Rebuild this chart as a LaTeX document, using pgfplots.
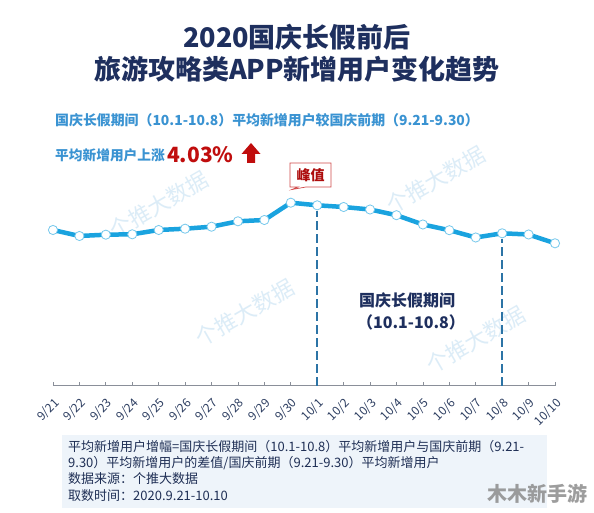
\documentclass[border=0pt]{standalone}
\usepackage{fontspec}
\setmainfont{Noto Sans CJK SC}
\usepackage{pgfplots}
\pgfplotsset{compat=1.18}
\definecolor{titlenavy}{HTML}{1E2F5E}
\definecolor{subblue}{HTML}{3A93D2}
\definecolor{hotred}{HTML}{C00D0D}
\definecolor{lineblue}{HTML}{1AA3DF}
\definecolor{dashblue}{HTML}{2C74A6}
\definecolor{ticktext}{HTML}{2E3F62}
\definecolor{axisgray}{HTML}{8A8F99}
\definecolor{notebg}{HTML}{EEF4FA}
\definecolor{notetext}{HTML}{1F2F55}
\definecolor{wmblue}{HTML}{9CCBEA}
\begin{document}
\begin{tikzpicture}[x=1pt,y=1pt]
\fill[white] (0,0) rectangle (594,513);
\path[use as bounding box] (0,0) rectangle (594,513);
% watermarks
\foreach \px/\py in {159/308, 436/333, 245/200, 476/173}{
  \node[rotate=30, text=wmblue, opacity=0.35, font=\fontsize{22}{22}\selectfont] at (\px,\py) {个推大数据};
}
% title
\node[text=titlenavy, font=\fontsize{27}{27}\selectfont\bfseries] at (297,476) {2020国庆长假前后};
\node[text=titlenavy, font=\fontsize{27}{27}\selectfont\bfseries] at (297,444) {旅游攻略类APP新增用户变化趋势};
% subtitle
\node[anchor=west, inner sep=0pt, text=subblue, font=\fontsize{13.9}{13.9}\selectfont\bfseries] at (55,393) {国庆长假期间（10.1-10.8）平均新增用户较国庆前期（9.21-9.30）};
\node[anchor=west, inner sep=0pt, text=subblue, font=\fontsize{13.7}{13.7}\selectfont\bfseries] at (55,358) {平均新增用户上涨};
\node[anchor=west, inner sep=0pt, text=hotred, font=\fontsize{21}{21}\selectfont\bfseries] at (167,358) {4.03\%};
\fill[hotred] (251,370) -- (260.5,359) -- (255,359) -- (255,350) -- (247,350) -- (247,359) -- (241.5,359) -- cycle;
% axis
\begin{axis}[
  at={(53pt,127.3pt)}, anchor=south west, scale only axis,
  width=502pt, height=200pt,
  xmin=0, xmax=19, ymin=0, ymax=200,
  axis x line=bottom, axis y line=none,
  x axis line style={draw=axisgray, line width=0.8pt, -},
  xtick={0,...,19},
  xticklabels={9/21,9/22,9/23,9/24,9/25,9/26,9/27,9/28,9/29,9/30,10/1,10/2,10/3,10/4,10/5,10/6,10/7,10/8,10/9,10/10},
  xtick align=inside,
  major tick length=4pt,
  tick style={draw=axisgray, line width=0.8pt},
  x tick label style={yshift=-10pt, rotate=45, anchor=north east, inner sep=1pt, text=ticktext, font=\fontsize{12}{12}\selectfont},
  /pgf/number format/assume math mode=true,
  clip=false,
]
\addplot[dashblue, line width=1.6pt, dash pattern=on 9pt off 4pt] coordinates {(10,0) (10,175)};
\addplot[dashblue, line width=1.6pt, dash pattern=on 9pt off 4pt] coordinates {(17,0) (17,147)};
\addplot[lineblue, line width=4.5pt, mark=*, mark size=4.6pt,
  mark options={fill=white, draw=lineblue!60, line width=0.8pt}] coordinates {
(0,155.7) (1,149.7) (2,151.0) (3,151.4) (4,155.7) (5,157.0) (6,159.0) (7,164.4) (8,165.7) (9,183.0)
(10,180.4) (11,178.7) (12,176.2) (13,170.5) (14,161.2) (15,155.5) (16,148.2) (17,152.4) (18,151.2) (19,142.4)
};
\end{axis}
% peak callout
\draw[draw=hotred!75, line width=0.7pt, fill=white] (290,350) -- (331,350) -- (331,326) -- (306,326) -- (292,323.5) -- (298,326) -- (290,326) -- cycle;
\node[text=hotred!90!black, font=\fontsize{14}{14}\selectfont\bfseries] at (310.5,338) {峰值};
% holiday label
\node[text=titlenavy, font=\fontsize{16}{16}\selectfont\bfseries] at (407,213) {国庆长假期间};
\node[text=titlenavy, font=\fontsize{16}{16}\selectfont\bfseries] at (411,191) {（10.1-10.8）};
% note box
\fill[notebg] (62,78) rectangle (547,5);
\node[anchor=west, inner sep=0pt, text=notetext, font=\fontsize{13}{13}\selectfont] at (68,66) {平均新增用户增幅=国庆长假期间（10.1-10.8）平均新增用户与国庆前期（9.21-};
\node[anchor=west, inner sep=0pt, text=notetext, font=\fontsize{13}{13}\selectfont] at (68,50) {9.30）平均新增用户的差值/国庆前期（9.21-9.30）平均新增用户};
\node[anchor=west, inner sep=0pt, text=notetext, font=\fontsize{13}{13}\selectfont] at (68,34) {数据来源：个推大数据};
\node[anchor=west, inner sep=0pt, text=notetext, font=\fontsize{13}{13}\selectfont] at (68,17) {取数时间：2020.9.21-10.10};
\node[anchor=east, inner sep=0pt, text=black!45, opacity=0.85, font=\fontsize{20}{20}\selectfont\bfseries] at (588,19) {木木新手游};
\end{tikzpicture}
\end{document}
